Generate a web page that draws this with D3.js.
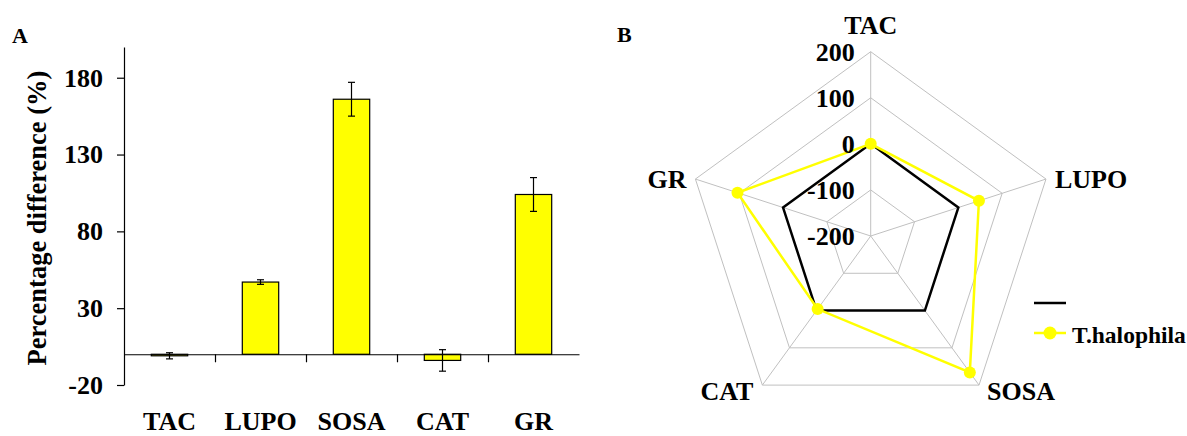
<!DOCTYPE html>
<html>
<head>
<meta charset="utf-8">
<script src="https://cdn.jsdelivr.net/npm/d3@7/dist/d3.min.js"></script>
<style>
  html, body { margin: 0; padding: 0; background: #fff; }
  svg text { font-family: "Liberation Serif", "Times New Roman", Times, serif; font-weight: bold; fill: #000; }
</style>
</head>
<body>
<svg id="chart" width="1187" height="436"></svg>
<script>
// Enzyme activity / growth responses, percentage difference vs control
const categories = ["TAC", "LUPO", "SOSA", "CAT", "GR"];
const pctDiff = [-1, 47, 166, -4, 104];
const pctErr = [2, 1.5, 11, 7, 11];
const yTicks = [-20, 30, 80, 130, 180];

// Radar panel series
const seriesNames = ["", "T.halophila"];
const controlValues = [0, 0, 0, 0, 0];
const halophilaValues = [0, 47, 166, -4, 104];
const ringTicks = [-200, -100, 0, 100, 200];

const svg = d3.select("#chart");

// ---------- Panel A: bar chart ----------
const gA = svg.append("g");
gA.append("text").attr("x", 12).attr("y", 43).style("font-size", "22px").text("A");

const x = d3.scaleBand().domain(categories).range([124, 579]).paddingInner(0.6).paddingOuter(0.3);
const y = d3.scaleLinear().domain([-20, 200]).range([385, 47]);

const yAxis = d3.axisLeft(y).tickValues(yTicks).tickSize(7).tickSizeOuter(0).tickPadding(14)
  .tickFormat(d => String(d));
const yG = gA.append("g").attr("transform", "translate(124,0)").call(yAxis);
yG.attr("font-family", null);
yG.selectAll("path, line").attr("stroke", "#000").attr("stroke-width", 1.2);
yG.selectAll("text").style("font-size", "26px");

gA.append("text")
  .attr("transform", "translate(46,218) rotate(-90)")
  .attr("text-anchor", "middle")
  .style("font-size", "26.5px")
  .text("Percentage difference (%)");

// bars
gA.selectAll("rect.bar").data(categories).enter().append("rect")
  .attr("class", "bar")
  .attr("x", d => x(d))
  .attr("width", x.bandwidth())
  .attr("y", (d, i) => y(Math.max(0, pctDiff[i])))
  .attr("height", (d, i) => Math.abs(y(pctDiff[i]) - y(0)))
  .attr("fill", "#ffff00")
  .attr("stroke", "#000")
  .attr("stroke-width", 1.2);

// zero line with category separators
const xi = d3.scaleLinear().domain([0, categories.length]).range(x.range());
const xAxis = d3.axisBottom(xi).tickValues(d3.range(1, categories.length)).tickSize(8).tickSizeOuter(0).tickFormat("");
const xG = gA.append("g").attr("transform", "translate(0," + y(0) + ")").call(xAxis);
xG.selectAll("path, line").attr("stroke", "#000").attr("stroke-width", 1.2);

// error bars
const cap = 3.5;
const eb = gA.selectAll("g.err").data(categories).enter().append("g").attr("class", "err")
  .attr("stroke", "#000").attr("stroke-width", 1.2);
eb.append("line")
  .attr("x1", d => x(d) + x.bandwidth() / 2).attr("x2", d => x(d) + x.bandwidth() / 2)
  .attr("y1", (d, i) => y(pctDiff[i] + pctErr[i])).attr("y2", (d, i) => y(pctDiff[i] - pctErr[i]));
eb.append("line")
  .attr("x1", d => x(d) + x.bandwidth() / 2 - cap).attr("x2", d => x(d) + x.bandwidth() / 2 + cap)
  .attr("y1", (d, i) => y(pctDiff[i] + pctErr[i])).attr("y2", (d, i) => y(pctDiff[i] + pctErr[i]));
eb.append("line")
  .attr("x1", d => x(d) + x.bandwidth() / 2 - cap).attr("x2", d => x(d) + x.bandwidth() / 2 + cap)
  .attr("y1", (d, i) => y(pctDiff[i] - pctErr[i])).attr("y2", (d, i) => y(pctDiff[i] - pctErr[i]));

// category labels
gA.selectAll("text.cat").data(categories).enter().append("text")
  .attr("class", "cat")
  .attr("x", d => x(d) + x.bandwidth() / 2)
  .attr("y", 430)
  .attr("text-anchor", "middle")
  .style("font-size", "26px")
  .text(d => d);

// ---------- Panel B: radar chart ----------
svg.append("text").attr("x", 617).attr("y", 42).style("font-size", "22px").text("B");

const cx = 870.7, cy = 236, R = 184.3;
const gB = svg.append("g").attr("transform", "translate(" + cx + "," + cy + ")");
const r = d3.scaleLinear().domain([-200, 200]).range([0, R]);
const ang = d3.scalePoint().domain(categories).range([0, 2 * Math.PI * (categories.length - 1) / categories.length]);
const pt = (c, v) => [r(v) * Math.sin(ang(c)), -r(v) * Math.cos(ang(c))];

// grid rings
ringTicks.filter(t => t > -200).forEach(t => {
  gB.append("polygon")
    .attr("points", categories.map(c => pt(c, t).join(",")).join(" "))
    .attr("fill", "none").attr("stroke", "#c0c0c0").attr("stroke-width", 1);
});
// spokes
gB.selectAll("line.spoke").data(categories).enter().append("line")
  .attr("class", "spoke")
  .attr("x1", 0).attr("y1", 0)
  .attr("x2", d => pt(d, 200)[0]).attr("y2", d => pt(d, 200)[1])
  .attr("stroke", "#c0c0c0").attr("stroke-width", 1);

const line = d3.line().curve(d3.curveLinearClosed);

// control series
gB.append("path")
  .attr("d", line(categories.map((c, i) => pt(c, controlValues[i]))))
  .attr("fill", "none").attr("stroke", "#000").attr("stroke-width", 2.5);

// T.halophila series
gB.append("path")
  .attr("d", line(categories.map((c, i) => pt(c, halophilaValues[i]))))
  .attr("fill", "none").attr("stroke", "#ffff00").attr("stroke-width", 2.5);
gB.selectAll("circle.pt").data(categories).enter().append("circle")
  .attr("class", "pt")
  .attr("cx", (d, i) => pt(d, halophilaValues[i])[0])
  .attr("cy", (d, i) => pt(d, halophilaValues[i])[1])
  .attr("r", 6)
  .attr("fill", "#ffff00");

// ring value labels along the top spoke
gB.selectAll("text.ring").data(ringTicks).enter().append("text")
  .attr("class", "ring")
  .attr("x", -16)
  .attr("y", d => -r(d))
  .attr("dy", "0.34em")
  .attr("text-anchor", "end")
  .style("font-size", "26px")
  .text(d => String(d));

// axis labels
gB.selectAll("text.axis").data(categories).enter().append("text")
  .attr("class", "axis")
  .each(function (c) {
    const [px, py] = pt(c, 200);
    const t = d3.select(this).style("font-size", "26px").text(c);
    if (Math.abs(px) < 1) {
      t.attr("x", px).attr("y", py - 18).attr("text-anchor", "middle");
    } else if (py < 0) {
      t.attr("x", px + (px > 0 ? 9 : -9)).attr("y", py + 8.5).attr("text-anchor", px > 0 ? "start" : "end");
    } else {
      t.attr("x", px + (px > 0 ? 8 : -9)).attr("y", py + 14.5).attr("text-anchor", px > 0 ? "start" : "end");
    }
  });

// legend
const legend = svg.append("g").attr("transform", "translate(1034,303)");
legend.append("line").attr("x1", 0).attr("x2", 32).attr("y1", 0).attr("y2", 0)
  .attr("stroke", "#000").attr("stroke-width", 2.5);
legend.append("text").attr("x", 38).attr("y", 7).style("font-size", "23.5px").text(seriesNames[0]);
legend.append("line").attr("x1", 0).attr("x2", 32).attr("y1", 30).attr("y2", 30)
  .attr("stroke", "#ffff00").attr("stroke-width", 2.5);
legend.append("circle").attr("cx", 16).attr("cy", 30).attr("r", 6.5).attr("fill", "#ffff00");
legend.append("text").attr("x", 38).attr("y", 40).style("font-size", "23.5px").text(seriesNames[1]);
</script>
</body>
</html>
